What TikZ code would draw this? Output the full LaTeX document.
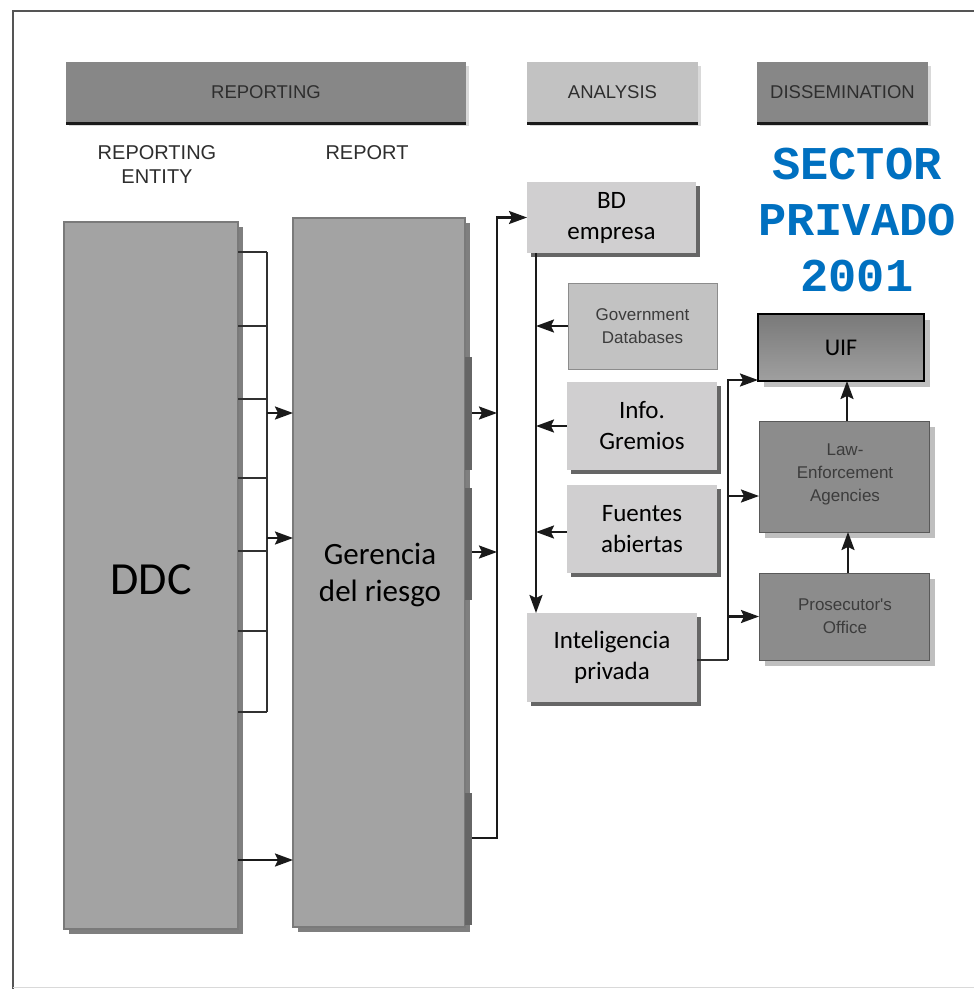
\documentclass[tikz,border=0pt]{standalone}
\usepackage{fontspec}
\usetikzlibrary{arrows.meta,shadows,calc}
\newfontfamily\carl{Carlito}
\newfontfamily\helv{Liberation Sans}
\newfontfamily\cour{Liberation Mono}
\definecolor{frame}{HTML}{555555}
\definecolor{bigfill}{HTML}{A3A3A3}
\definecolor{bigline}{HTML}{7A7A7A}
\definecolor{lightfill}{HTML}{D0CFD0}
\definecolor{govfill}{HTML}{C2C2C2}
\definecolor{darkfill}{HTML}{8C8C8C}
\definecolor{headdark}{HTML}{878787}
\definecolor{headlight}{HTML}{C2C2C2}
\definecolor{tabgray}{HTML}{666666}
\definecolor{sectorblue}{HTML}{0070C0}
\definecolor{ink}{HTML}{1A1A1A}
\definecolor{headink}{HTML}{2E2E2E}
\definecolor{smalltext}{HTML}{3C3C3C}
\tikzset{
  every node/.style={inner sep=0pt,outer sep=0pt},
  bigbox/.style={draw=bigline,line width=1.2pt,fill=bigfill,
    drop shadow={shadow xshift=5pt,shadow yshift=-5pt,fill=black,opacity=0.5}},
  lightbox/.style={draw=none,fill=lightfill,
    drop shadow={shadow xshift=4pt,shadow yshift=-4pt,fill=black,opacity=0.6}},
  govbox/.style={draw=gray!90,line width=1pt,fill=govfill},
  darkbox/.style={draw=gray!70!black,line width=1pt,fill=darkfill,
    drop shadow={shadow xshift=6pt,shadow yshift=-6pt,fill=black,opacity=0.25}},
  headbar/.style={draw=none,minimum height=60pt,
    drop shadow={shadow xshift=3pt,shadow yshift=-4pt,fill=black,opacity=0.15}},
  headtext/.style={font=\helv\fontsize{18.5}{22}\selectfont,text=headink},
  coltext/.style={font=\helv\fontsize{20}{24}\selectfont,text=headink,align=center},
  boxtext/.style={font=\carl\fontsize{25}{31}\selectfont,align=center},
  fadedtext/.style={font=\helv\fontsize{17}{23}\selectfont,text=smalltext,align=center},
  arr/.style={draw=ink,line width=2.2pt,-{Stealth[length=18pt,width=13pt,inset=3pt]}},
  wire/.style={draw=ink!90,line width=2.2pt},
}
\begin{document}
\begin{tikzpicture}[x=1pt,y=-1pt]
\useasboundingbox[fill=white] (0,0) rectangle (974,989);

% outer frame
\draw[frame,line width=2.5pt] (13,989) -- (13,11) -- (974,11);
\draw[black!15,line width=1pt] (13,987) -- (974,987);

% phase headers
\node[headbar,fill=headdark,minimum width=400pt] (hrep) at (266,92) {};
\node[headbar,fill=headlight,minimum width=171pt] (hana) at (612.5,92) {};
\node[headbar,fill=headdark,minimum width=171pt] (hdis) at (842.5,92) {};
\foreach \h in {hrep,hana,hdis}
  \draw[ink,line width=3pt] ([yshift=-1.5pt]\h.south west) -- ([yshift=-1.5pt]\h.south east);
\node[headtext] at (hrep) {REPORTING};
\node[headtext] at (hana) {ANALYSIS};
\node[headtext] at (hdis) {DISSEMINATION};

% column captions
\node[coltext] (lent) at (157,165) {REPORTING\\ENTITY};
\node[coltext] (lrep) at (367,153) {REPORT};

% title
\node[font=\cour\bfseries\fontsize{47}{56}\selectfont,text=sectorblue,align=center]
  (title) at (857,220) {SECTOR\\PRIVADO\\2001};

% reporting column
\node[bigbox,minimum width=174pt,minimum height=707pt] (DDC) at (151,575.5) {};
\node[font=\carl\fontsize{46}{50}\selectfont] at (151,580) {DDC};
\node[bigbox,minimum width=172pt,minimum height=709pt] (Ger) at (379,572.5) {};
\node[font=\carl\fontsize{31}{37}\selectfont,align=center] at (380,575) {Gerencia\\del riesgo};

% darker tabs on the report column
\fill[tabgray] (Ger.east |- 0,357) rectangle ++(7,113);
\fill[tabgray] (Ger.east |- 0,488) rectangle ++(7,112);
\fill[tabgray] (Ger.east |- 0,793) rectangle ++(7,132);

% analysis column
\node[lightbox,minimum width=169pt,minimum height=71pt] (BD) at (611.5,217.5) {};
\node[boxtext] at (BD) {BD\\empresa};
\node[govbox,minimum width=149pt,minimum height=86pt] (Gov) at (642.5,326) {};
\node[fadedtext] at (Gov) {Government\\Databases};
\node[lightbox,minimum width=150pt,minimum height=88pt] (Info) at (642,426) {};
\node[boxtext] at (Info) {Info.\\Gremios};
\node[lightbox,minimum width=150pt,minimum height=88pt] (Fue) at (642,529) {};
\node[boxtext] at (Fue) {Fuentes\\abiertas};
\node[lightbox,minimum width=170pt,minimum height=89pt] (Int) at (612,657.5) {};
\node[boxtext] at (Int) {Inteligencia\\privada};

% dissemination column
\node[darkbox,draw=black,line width=1.5pt,top color=gray!95!black,bottom color=gray!75,
  minimum width=166pt,minimum height=67pt] (UIF) at (841,347.5) {};
\node[font=\carl\fontsize{24}{28}\selectfont] at (UIF) {UIF};
\node[darkbox,minimum width=170pt,minimum height=111pt] (Law) at (844,476.5) {};
\node[fadedtext,text=ink!85] at (845,474) {Law-\\Enforcement\\Agencies};
\node[darkbox,minimum width=170pt,minimum height=87pt] (Pro) at (844,616.5) {};
\node[fadedtext,text=ink!85] at (845,616) {Prosecutor's\\Office};

% collector from the reporting entity
\coordinate (bt) at (267,252);
\coordinate (bb) at (267,712);
\draw[wire] (bt) -- (bb);
\foreach \y in {252,326,399,478,551,631,712}
  \draw[wire] (DDC.east |- 0,\y) -- (bt |- 0,\y);
\foreach \y in {413,538}
  \draw[arr] (bt |- 0,\y) -- (Ger.west |- 0,\y);
\draw[arr] (DDC.east |- 0,860) -- (Ger.west |- 0,860);

% report to analysis
\coordinate (cr) at (497,838);
\foreach \y in {413,552}
  \draw[arr] ([xshift=7pt]Ger.east |- 0,\y) -- (cr |- 0,\y);
\draw[arr] ([xshift=7pt]Ger.east |- cr) -- (cr) |- (BD.west);

% analysis sources
\coordinate (al) at (536,0);
\draw[arr] (BD.south -| al) -- (Int.north -| al);
\draw[arr] (Gov.west) -- (Gov.west -| al);
\draw[arr] (Info.west) -- (Info.west -| al);
\draw[arr] (Fue.west |- 0,532) -- (al |- 0,532);

% analysis to dissemination
\coordinate (dl) at (728,660);
\draw[wire] (Int.east |- dl) -- (dl);
\draw[arr] (dl) |- (UIF.west |- 0,380);
\draw[arr] (dl |- 0,496) -- (Law.west |- 0,496);
\draw[arr] (dl |- Pro.west) -- (Pro.west);
\draw[arr] (Pro.north -| 848,0) -- (Law.south -| 848,0);
\draw[arr] (Law.north -| 847,0) -- (UIF.south -| 847,0);
\end{tikzpicture}
\end{document}
